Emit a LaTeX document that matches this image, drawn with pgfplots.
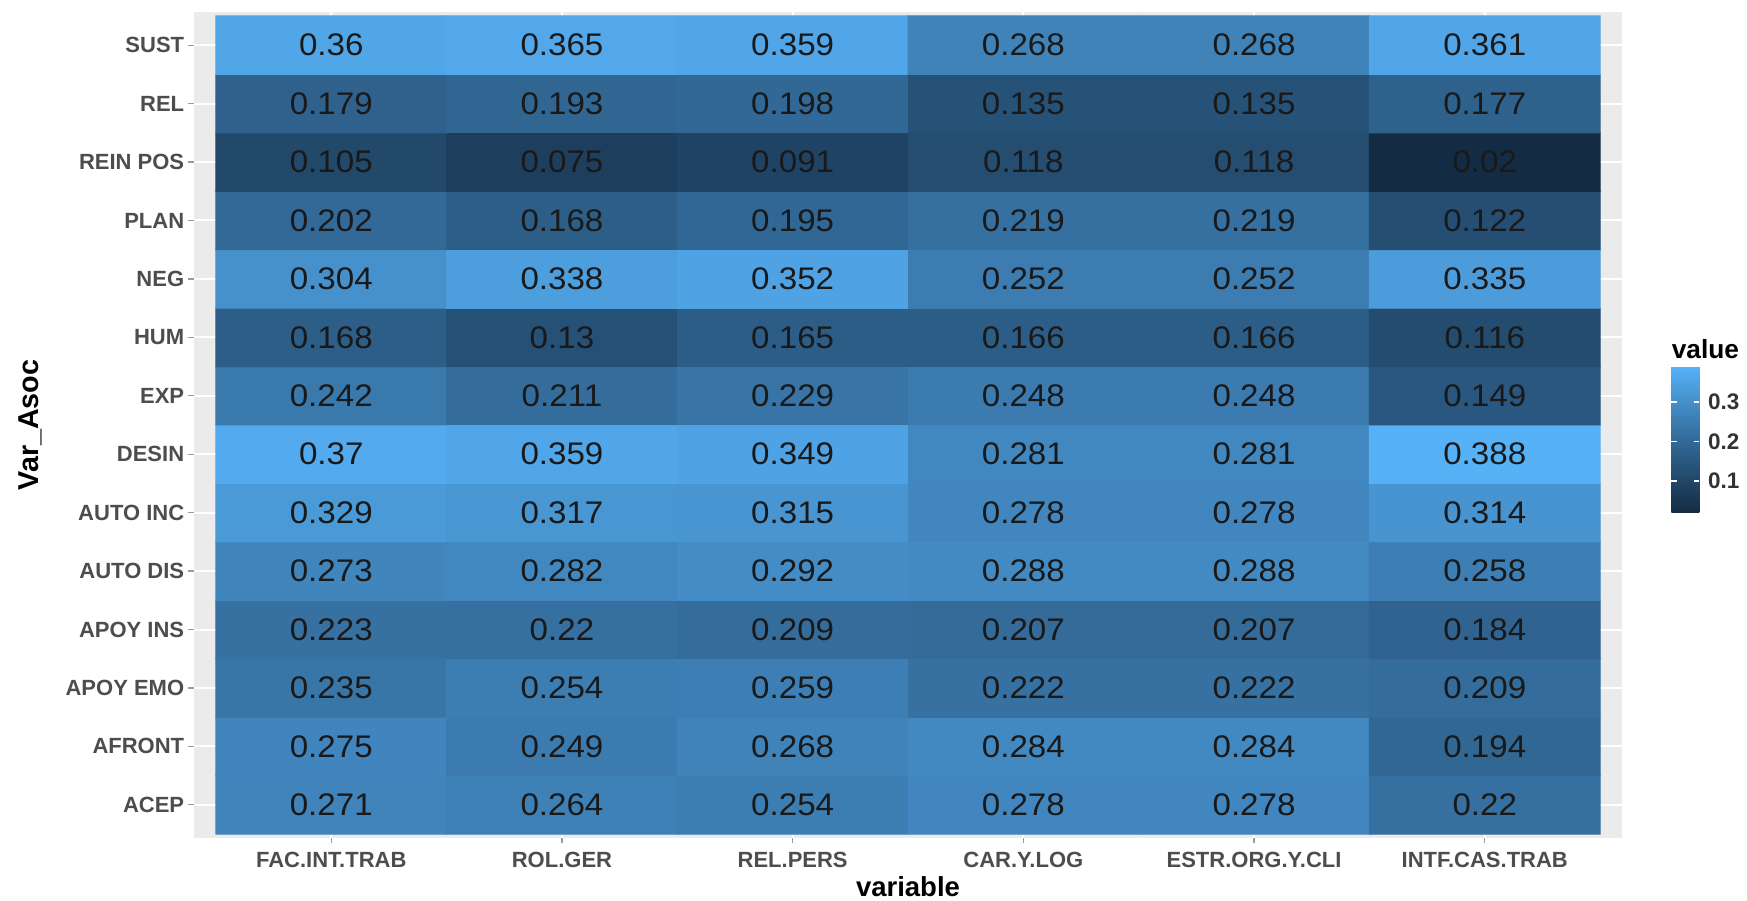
\documentclass[border=0pt]{standalone}
\usepackage{pgfplots}
\pgfplotsset{compat=1.18}
\usepackage{pgfplotstable}
\usepackage{fontspec}
\setmainfont{Liberation Sans}
\newfontfamily\cellfont{Liberation Sans}[FakeStretch=1.06]
\definecolor{panelbg}{HTML}{EBEBEB}
\definecolor{axtext}{HTML}{4D4D4D}
\definecolor{tickc}{HTML}{9A9A9A}

\pgfplotstableread{
x y v
0 0 0.271
1 0 0.264
2 0 0.254
3 0 0.278
4 0 0.278
5 0 0.22
0 1 0.275
1 1 0.249
2 1 0.268
3 1 0.284
4 1 0.284
5 1 0.194
0 2 0.235
1 2 0.254
2 2 0.259
3 2 0.222
4 2 0.222
5 2 0.209
0 3 0.223
1 3 0.22
2 3 0.209
3 3 0.207
4 3 0.207
5 3 0.184
0 4 0.273
1 4 0.282
2 4 0.292
3 4 0.288
4 4 0.288
5 4 0.258
0 5 0.329
1 5 0.317
2 5 0.315
3 5 0.278
4 5 0.278
5 5 0.314
0 6 0.37
1 6 0.359
2 6 0.349
3 6 0.281
4 6 0.281
5 6 0.388
0 7 0.242
1 7 0.211
2 7 0.229
3 7 0.248
4 7 0.248
5 7 0.149
0 8 0.168
1 8 0.13
2 8 0.165
3 8 0.166
4 8 0.166
5 8 0.116
0 9 0.304
1 9 0.338
2 9 0.352
3 9 0.252
4 9 0.252
5 9 0.335
0 10 0.202
1 10 0.168
2 10 0.195
3 10 0.219
4 10 0.219
5 10 0.122
0 11 0.105
1 11 0.075
2 11 0.091
3 11 0.118
4 11 0.118
5 11 0.02
0 12 0.179
1 12 0.193
2 12 0.198
3 12 0.135
4 12 0.135
5 12 0.177
0 13 0.36
1 13 0.365
2 13 0.359
3 13 0.268
4 13 0.268
5 13 0.361
}\heat

\begin{document}
\begin{tikzpicture}
\begin{axis}[
  name=main, at={(0,0)}, anchor=south west,
  scale only axis, width=571.2pt, height=330.4pt,
  xmin=-0.595, xmax=5.595, ymin=-0.568, ymax=13.568,
  xtick={0,...,5},
  xticklabels={FAC.INT.TRAB,ROL.GER,REL.PERS,CAR.Y.LOG,ESTR.ORG.Y.CLI,INTF.CAS.TRAB},
  ytick={0,...,13},
  yticklabels={ACEP,AFRONT,APOY EMO,APOY INS,AUTO DIS,AUTO INC,DESIN,EXP,HUM,NEG,PLAN,REIN POS,REL,SUST},
  tick pos=left, tick align=outside, major tick length=2.2pt,
  tick style={tickc, line width=0.5pt},
  axis line style={draw=none},
  axis background/.style={fill=panelbg},
  grid=major, major grid style={white, line width=0.8pt},
  tick label style={font=\bfseries\fontsize{8.8}{10}\selectfont, text=axtext},
  xticklabel style={anchor=base, yshift=-9.7pt},
  yticklabel style={anchor=east, xshift=1.8pt},
  xlabel={variable},
  xlabel style={at={(axis description cs:0.5,-0.0714)}, anchor=base, inner sep=0pt, font=\bfseries\fontsize{11}{13}\selectfont},
  ylabel={Var\_Asoc},
  ylabel style={at={(axis description cs:-0.1092,0.5)}, anchor=base, inner sep=0pt, font=\bfseries\fontsize{11.5}{13}\selectfont},
  colormap={gg}{rgb255=(19,43,67) rgb255=(51,106,152) rgb255=(86,177,247)},
  point meta min=0.02, point meta max=0.388,
  colorbar,
  colorbar style={
    at={(parent axis.north east)}, anchor=north west, xshift=11.2pt, yshift=-142pt,
    scale only axis, width=11.2pt, height=58.4pt,
    ytick={0.1,0.2,0.3}, yticklabels={0.1,0.2,0.3},
    ytick pos=both, yticklabel pos=right,
    tick align=inside, major tick length=2.2pt,
    tick style={white, line width=0.6pt},
    axis line style={draw=none},
    yticklabel style={font=\bfseries\fontsize{9}{10}\selectfont, text=black!80, anchor=west},
    title={value},
    title style={at={(0,1)}, anchor=base west, yshift=-2.6pt, inner sep=0pt, font=\bfseries\fontsize{10.5}{12}\selectfont},
  },
]
\addplot[matrix plot*, mesh/cols=6, point meta=explicit] table[x=x, y=y, meta=v] {\heat};
\addplot[draw=none, mark=none, nodes near coords, point meta=explicit symbolic,
  nodes near coords style={anchor=center, inner sep=0pt, text=black!90, font=\cellfont\fontsize{12.5}{13}\selectfont}]
  table[x=x, y=y, meta=v] {\heat};
\end{axis}
\pgfresetboundingbox
\useasboundingbox (main.south west) ++(-77.6pt,-25.2pt) rectangle ++(698.8pt,360.4pt);
\end{tikzpicture}
\end{document}
